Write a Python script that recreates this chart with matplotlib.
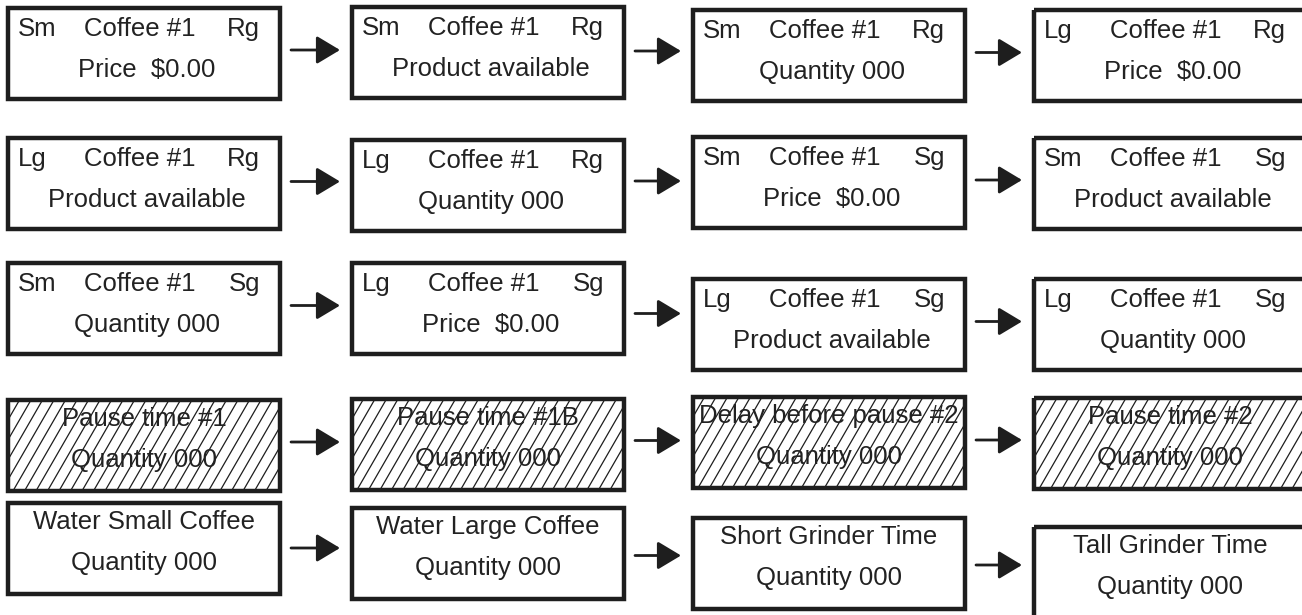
import numpy as np
import matplotlib.pyplot as plt
from matplotlib.patches import Rectangle
from matplotlib.collections import LineCollection

# screen texts, rows 1-3 (menu screens)
sizes = ['Sm', 'Sm', 'Sm', 'Lg', 'Lg', 'Lg', 'Sm', 'Sm', 'Sm', 'Lg', 'Lg', 'Lg']
grinds = ['Rg'] * 6 + ['Sg'] * 6
product = 'Coffee #1'
second_lines = ['Price  $0.00', 'Product available', 'Quantity 000'] * 4

# rows 4-5 (setting screens)
pause_titles = ['Pause time #1', 'Pause time #1B', 'Delay before pause #2', 'Pause time #2']
water_titles = ['Water Small Coffee', 'Water Large Coffee', 'Short Grinder Time', 'Tall Grinder Time']
setting_value = 'Quantity 000'

# layout (pixels)
col_left = [8, 352, 693, 1034]
row_top = [[8, 7, 10, 10],
           [138, 140, 137, 138],
           [263, 263, 279, 279],
           [400, 399, 397, 398],
           [503, 508, 518, 527]]
box_w = 272
box_h = 91

fig = plt.figure(figsize=(13.02, 6.15), dpi=100)
ax = fig.add_axes([0, 0, 1, 1])
ax.set_xlim(0, 1302)
ax.set_ylim(615, 0)
ax.axis('off')

ink = '#1e1e1e'
font = dict(family='Liberation Sans', size=18.5, color='#222222', va='center')


def draw_box(x, y, hatched=False):
    rect = Rectangle((x, y), box_w, box_h, fill=False, lw=3.2, edgecolor=ink, joinstyle='miter', zorder=3)
    ax.add_patch(rect)
    if hatched:
        clip = Rectangle((x, y), box_w, box_h, fill=False, lw=0, transform=ax.transData)
        run = box_h / np.tan(np.deg2rad(60))
        starts = np.arange(x - run, x + box_w, 11.5)
        segs = [[(s, y + box_h), (s + run, y)] for s in starts]
        lc = LineCollection(segs, colors=ink, linewidths=0.9, zorder=1)
        ax.add_collection(lc)
        lc.set_clip_path(clip)


def draw_arrow(x0, x1, y):
    ax.annotate('', xy=(x1, y), xytext=(x0, y),
                arrowprops=dict(arrowstyle='-|>,head_length=0.4,head_width=0.24',
                                mutation_scale=36, lw=2, color=ink,
                                shrinkA=0, shrinkB=0))


# rows 1-3
for i in range(12):
    r, c = divmod(i, 4)
    x, y = col_left[c], row_top[r][c]
    draw_box(x, y)
    ax.text(x + 10, y + 21, sizes[i], ha='left', **font)
    ax.text(x + box_w / 2 - 4, y + 21, product, ha='center', **font)
    ax.text(x + box_w - 20, y + 21, grinds[i], ha='right', **font)
    ax.text(x + box_w / 2 + 3, y + 62, second_lines[i], ha='center', **font)

# rows 4-5
for r, titles in ((3, pause_titles), (4, water_titles)):
    for c, title in enumerate(titles):
        x, y = col_left[c], row_top[r][c]
        draw_box(x, y, hatched=(r == 3))
        ax.text(x + box_w / 2, y + 19, title, ha='center', zorder=2, **font)
        ax.text(x + box_w / 2, y + 60, setting_value, ha='center', zorder=2, **font)

# arrows between screens
for r in range(5):
    for c in range(3):
        yc = (row_top[r][c] + row_top[r][c + 1]) / 2 + box_h / 2 - 3
        draw_arrow(col_left[c] + box_w + 11, col_left[c + 1] - 12, yc)

fig.savefig('out.png', dpi=100)
